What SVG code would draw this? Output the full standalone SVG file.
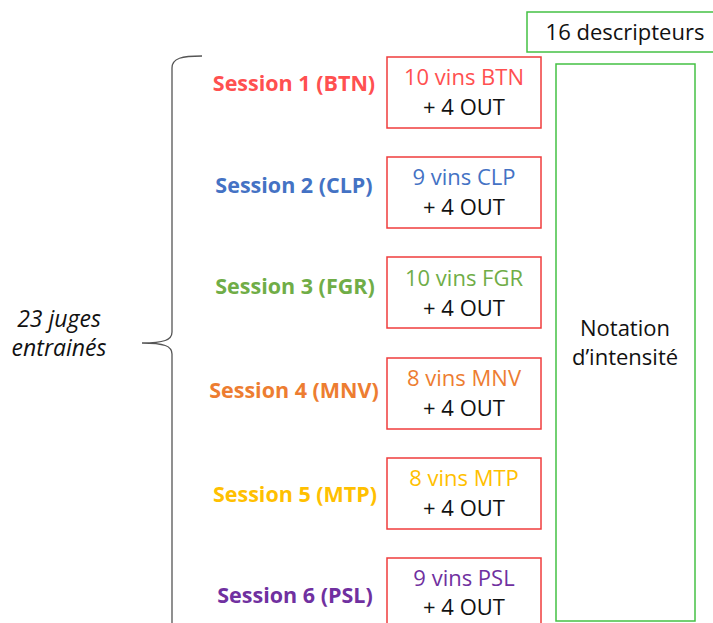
<svg xmlns="http://www.w3.org/2000/svg" width="713" height="623" viewBox="0 0 713 623">
<style>
text{font-family:"Open Sans","Liberation Sans",sans-serif;text-anchor:middle}
.s{font-weight:bold;font-size:21.5px}
.w{font-size:22px}
.k{fill:#111}
.j{font-style:italic;font-size:23px;fill:#111}
.rb{fill:none;stroke:#F03C3C;stroke-width:1.5}
.gb{fill:none;stroke:#44C144;stroke-width:1.5}
</style>
<rect width="713" height="623" fill="#fff"/>
<g id="connectors">
<path d="M202,56 C182,56 172,58 172,68 L172,332 C172,340 164,343 142,343 C164,343 172,346 172,354 L172,623" fill="none" stroke="#555" stroke-width="1.3"/>
</g>
<g id="judges"><text x="59" y="327" class="j">23 juges</text><text x="59" y="356" class="j">entrainés</text></g>
<g id="descripteurs"><rect x="527" y="12" width="190" height="40" class="gb"/><text x="625" y="40" class="w k">16 descripteurs</text></g>
<g id="notation"><rect x="556" y="64" width="139" height="557" class="gb"/><text x="625" y="336" class="w k">Notation</text><text x="625" y="365" class="w k">d’intensité</text></g>
<g id="session1"><text x="294" y="91" class="s" fill="#FF5050">Session 1 (BTN)</text><rect x="387" y="57" width="154" height="71" class="rb"/><text x="464" y="85" class="w" fill="#FF5050">10 vins BTN</text><text x="464" y="115" class="w k">+ 4 OUT</text></g>
<g id="session2"><text x="294" y="193" class="s" fill="#4472C4">Session 2 (CLP)</text><rect x="387" y="157" width="154" height="71" class="rb"/><text x="464" y="185" class="w" fill="#4472C4">9 vins CLP</text><text x="464" y="215" class="w k">+ 4 OUT</text></g>
<g id="session3"><text x="295" y="294" class="s" fill="#70AD47">Session 3 (FGR)</text><rect x="387" y="257" width="154" height="71" class="rb"/><text x="464" y="286" class="w" fill="#70AD47">10 vins FGR</text><text x="464" y="316" class="w k">+ 4 OUT</text></g>
<g id="session4"><text x="294" y="398" class="s" fill="#ED7D31">Session 4 (MNV)</text><rect x="387" y="358" width="154" height="71" class="rb"/><text x="464" y="386" class="w" fill="#ED7D31">8 vins MNV</text><text x="464" y="416" class="w k">+ 4 OUT</text></g>
<g id="session5"><text x="295" y="502" class="s" fill="#FFC000">Session 5 (MTP)</text><rect x="387" y="458" width="154" height="71" class="rb"/><text x="464" y="486" class="w" fill="#FFC000">8 vins MTP</text><text x="464" y="516" class="w k">+ 4 OUT</text></g>
<g id="session6"><text x="295" y="603" class="s" fill="#7030A0">Session 6 (PSL)</text><rect x="387" y="558" width="154" height="80" class="rb"/><text x="464" y="586" class="w" fill="#7030A0">9 vins PSL</text><text x="464" y="615" class="w k">+ 4 OUT</text></g>
</svg>
